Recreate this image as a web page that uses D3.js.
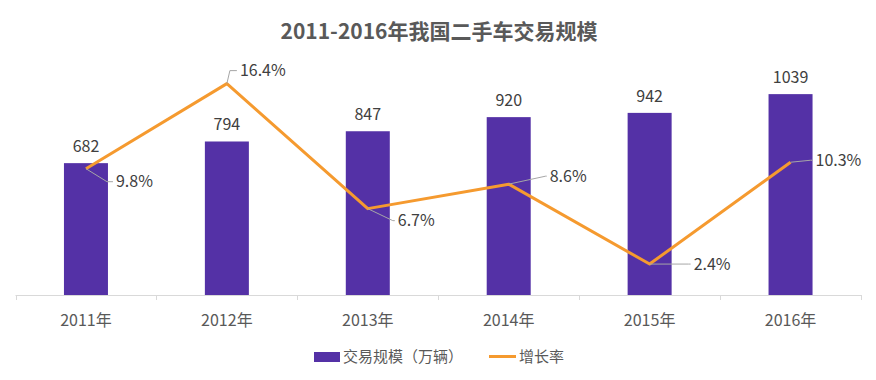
<!DOCTYPE html>
<html><head><meta charset="utf-8">
<script src="https://cdn.jsdelivr.net/npm/d3@7"></script>
<style>body{margin:0;background:#fff}svg{display:block}</style>
</head><body><svg id="c" width="876" height="380"></svg>
<script>
const categories = ["2011年","2012年","2013年","2014年","2015年","2016年"];
const volume = [682, 794, 847, 920, 942, 1039];
const growth = [9.8, 16.4, 6.7, 8.6, 2.4, 10.3];
const seriesNames = ["交易规模（万辆）", "增长率"];
const title = "2011-2016年我国二手车交易规模";

// label leader geometry (layout only): [dx1, dy1, dx2, dy2]
const leaders = [[21,13,27,13],[3,-13,10,-13],[25,12,27,12],[37,-8,38,-8],[39,0,41,0],[20,-2,22,-2]];

const svg=d3.select("#c");
const font="'Noto Sans CJK SC','Noto Sans',sans-serif";
const xb=d3.scaleBand().domain(categories).range([15.5,861]);
const yL=d3.scaleLinear().domain([0,1200]).range([295,63]);
const yR=d3.scaleLinear().domain([0,18]).range([295,63]);
const cx=i=>xb(categories[i])+xb.bandwidth()/2;

svg.append("text").attr("x",439).attr("y",39).attr("text-anchor","middle")
 .attr("font-family",font).attr("font-weight","bold").attr("font-size",21).attr("fill","#595959").text(title);

// bars
svg.selectAll("rect.bar").data(volume).join("rect").attr("class","bar")
 .attr("x",(d,i)=>cx(i)-22).attr("width",44)
 .attr("y",d=>yL(d)).attr("height",d=>yL(0)-yL(d)).attr("fill","#5431a6");

// axis
svg.append("line").attr("x1",15.5).attr("x2",861).attr("y1",295.5).attr("y2",295.5).attr("stroke","#d9d9d9");
const tickXs=categories.map(c=>xb(c)).concat([xb(categories[5])+xb.bandwidth()]);
svg.selectAll("line.tk").data(tickXs).join("line").attr("class","tk")
 .attr("x1",d=>Math.round(d)+0.5).attr("x2",d=>Math.round(d)+0.5).attr("y1",295).attr("y2",300).attr("stroke","#d9d9d9");
svg.selectAll("text.cat").data(categories).join("text").attr("class","cat")
 .attr("x",d=>xb(d)+xb.bandwidth()/2).attr("y",326).attr("text-anchor","middle")
 .attr("font-family",font).attr("font-size",16).attr("fill","#595959").text(d=>d);

// bar labels
svg.selectAll("text.bv").data(volume).join("text").attr("class","bv")
 .attr("x",(d,i)=>cx(i)).attr("y",d=>yL(d)-11).attr("text-anchor","middle")
 .attr("font-family",font).attr("font-size",16).attr("fill","#404040").text(d=>d);

// line
svg.append("path").datum(growth).attr("fill","none").attr("stroke","#f59a2f").attr("stroke-width",3)
 .attr("stroke-linejoin","round")
 .attr("d",d3.line().x((d,i)=>cx(i)).y(d=>yR(d)));

// leaders + labels
growth.forEach((d,i)=>{
  const px=cx(i), py=yR(d), l=leaders[i];
  svg.append("path").attr("fill","none").attr("stroke","#a6a6a6").attr("stroke-width",1)
   .attr("d",`M${px},${py}L${px+l[0]},${py+l[1]}L${px+l[2]},${py+l[3]}`);
  svg.append("text").attr("x",px+l[2]+3).attr("y",py+l[3]).attr("dy","0.35em")
   .attr("font-family",font).attr("font-size",16).attr("fill","#404040").text(d.toFixed(1)+"%");
});

// legend
svg.append("rect").attr("x",314).attr("y",352).attr("width",26).attr("height",10).attr("fill","#5431a6");
svg.append("text").attr("x",343).attr("y",357).attr("dy","0.35em").attr("font-family",font).attr("font-size",15).attr("fill","#595959").text(seriesNames[0]);
svg.append("line").attr("x1",489).attr("x2",516).attr("y1",356.5).attr("y2",356.5).attr("stroke","#f59a2f").attr("stroke-width",3);
svg.append("text").attr("x",519).attr("y",357).attr("dy","0.35em").attr("font-family",font).attr("font-size",15).attr("fill","#595959").text(seriesNames[1]);
</script></body></html>
